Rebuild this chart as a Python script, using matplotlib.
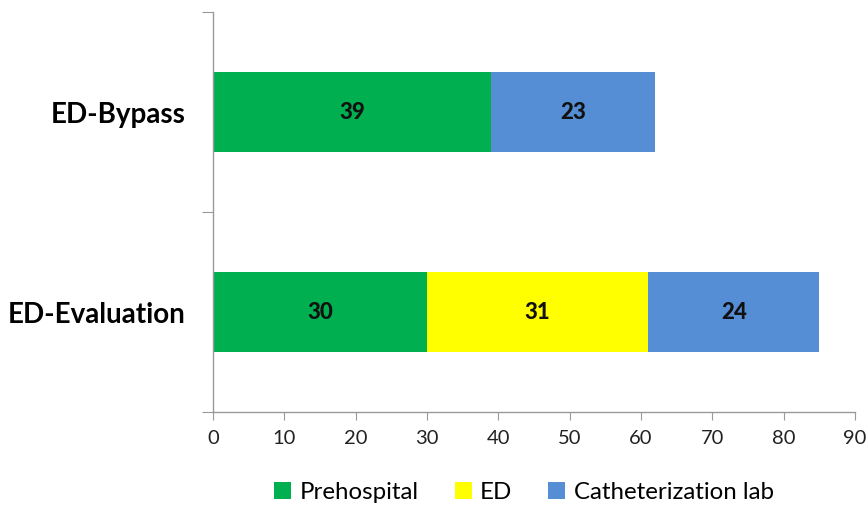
import matplotlib
matplotlib.use("Agg")
import matplotlib.pyplot as plt
import numpy as np

categories = ["ED-Evaluation", "ED-Bypass"]
series_names = ["Prehospital", "ED", "Catheterization lab"]
prehospital = [30, 39]
ed = [31, 0]
cath = [24, 23]
xticks = [0, 10, 20, 30, 40, 50, 60, 70, 80, 90]
colors = ["#00B050", "#FFFF00", "#558ED5"]

plt.rcParams['font.family'] = ['Lato', 'DejaVu Sans']

fig = plt.figure(figsize=(8.68, 5.06), dpi=100)
ax = fig.add_axes([213/868, 1-413/506, (855-213)/868, (413-13)/506])

y = np.arange(len(categories))
left = np.zeros(len(categories))
for vals, name, c in zip([prehospital, ed, cath], series_names, colors):
    vals = np.array(vals, dtype=float)
    ax.barh(y, vals, left=left, height=0.4, color=c, label=name)
    for yi, v, l in zip(y, vals, left):
        if v > 0:
            ax.text(l + v/2, yi, f"{int(v)}", ha="center", va="center",
                    fontsize=16, fontweight=900, color="#111111")
    left += vals

ax.set_xlim(0, 90)
ax.set_ylim(-0.5, 1.5)
ax.set_xticks(xticks)
ax.set_xticklabels([str(t) for t in xticks], fontsize=14.5, color="#222222")
ax.set_yticks([-0.5, 0.5, 1.5])
ax.set_yticklabels([])
ax.set_yticks(y, minor=True)
ax.set_yticklabels(categories, minor=True, fontsize=20, fontweight="bold")
ax.tick_params(axis="y", which="minor", length=0, pad=20)
ax.tick_params(axis="y", which="major", length=8, color="#999999", direction="out")
ax.tick_params(axis="x", length=6, color="#999999", direction="out", pad=6)
for s in ["top", "right"]:
    ax.spines[s].set_visible(False)
for s in ["left", "bottom"]:
    ax.spines[s].set_color("#999999")
    ax.spines[s].set_linewidth(1)

ax.legend(loc="center", bbox_to_anchor=(524/868, 1-493/506), bbox_transform=fig.transFigure,
          ncol=3, frameon=False, fontsize=17.3, handlelength=0.7, handleheight=0.7,
          handletextpad=0.35, columnspacing=1.5)

fig.savefig("out.png", dpi=100)
